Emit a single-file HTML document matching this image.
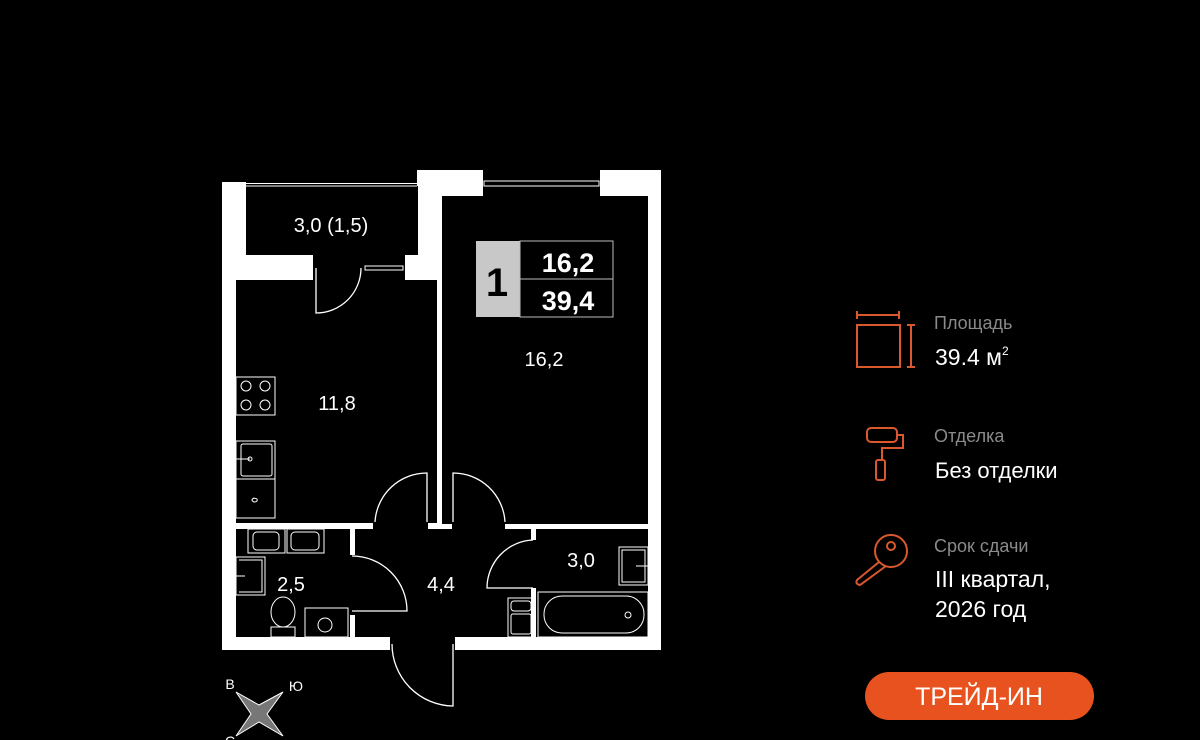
<!DOCTYPE html>
<html><head><meta charset="utf-8"><style>
html,body{margin:0;padding:0;background:#000;width:1200px;height:740px;overflow:hidden}
svg{display:block}
</style></head><body>
<svg width="1200" height="740" viewBox="0 0 1200 740" xmlns="http://www.w3.org/2000/svg" font-family="Liberation Sans, sans-serif">
<rect width="1200" height="740" fill="#000"/>
<polygon fill="#fff" points="222,182 417,182 417,170 661,170 661,650 455,650 455,637 390,637 390,650 222,650"/>
<rect x="246" y="186" width="172" height="69" fill="#000"/>
<rect x="246" y="182" width="171" height="4" fill="#000"/>
<line x1="246" y1="183.5" x2="417" y2="183.5" stroke="#fff" stroke-width="1"/>
<line x1="246" y1="186" x2="417" y2="186" stroke="#fff" stroke-width="1"/>
<rect x="313" y="255" width="52" height="25" fill="#000"/>
<rect x="365" y="255" width="40" height="25" fill="#000"/>
<rect x="365" y="266" width="38" height="4" fill="none" stroke="#fff" stroke-width="1"/>
<rect x="236" y="280" width="201" height="243" fill="#000"/>
<path d="M316,268 L316,313 A45,45 0 0 0 361,268" fill="none" stroke="#fff" stroke-width="1.3"/>
<rect x="442" y="196" width="206" height="328" fill="#000"/>
<rect x="483" y="170" width="117" height="26" fill="#000"/>
<rect x="484" y="181" width="115" height="5" fill="none" stroke="#fff" stroke-width="1"/>
<rect x="236" y="529" width="114" height="108" fill="#000"/>
<rect x="355" y="529" width="176" height="108" fill="#000"/>
<rect x="373" y="521" width="55" height="10" fill="#000"/>
<rect x="452" y="521" width="53" height="10" fill="#000"/>
<rect x="391" y="636" width="63" height="15" fill="#000"/>
<rect x="349" y="555" width="8" height="60" fill="#000"/>
<rect x="529" y="540" width="8" height="48" fill="#000"/>
<rect x="536" y="529" width="112" height="108" fill="#000"/>
<g fill="none" stroke="#fff" stroke-width="1.3">
<path d="M427,522 L427,473 A52,52 0 0 0 375,522"/>
<path d="M453,522 L453,473 A52,52 0 0 1 505,522"/>
<path d="M352,556 A55,55 0 0 1 407,611 L352,611"/>
<path d="M533,540 A48,48 0 0 0 487,588 L533,588"/>
<path d="M392,644 A62,62 0 0 0 453,706 L453,644"/>
</g>
<g fill="none" stroke="#fff" stroke-width="1">
<rect x="236" y="377" width="39" height="38"/>
<circle cx="246" cy="386" r="5"/><circle cx="265" cy="386" r="5"/>
<circle cx="246" cy="405" r="5"/><circle cx="265" cy="405" r="5"/>
<rect x="236" y="441" width="39" height="38"/>
<rect x="241" y="444" width="31" height="32" rx="2"/>
<line x1="236" y1="459" x2="250" y2="459"/><circle cx="250" cy="459" r="2"/>
<rect x="236" y="479" width="39" height="39"/>
<path d="M254,498 q-4,2 0,4 q4,0 3,-3 z"/>
<rect x="248" y="529" width="37" height="24"/><rect x="253" y="532" width="26" height="18" rx="4"/>
<rect x="287" y="529" width="37" height="24"/><rect x="291" y="532" width="28" height="18" rx="4"/>
<rect x="236" y="557" width="29" height="38"/>
<path d="M239,560 h23 v32 h-23 M236,576 h9"/>
<ellipse cx="283" cy="612" rx="12" ry="15"/>
<rect x="271" y="627" width="24" height="10"/>
<rect x="305" y="608" width="43" height="29"/>
<circle cx="325" cy="625" r="7"/>
<rect x="619" y="547" width="29" height="38"/>
<path d="M622,550 h23 v32 h-23 z M636,566 h12"/>
<rect x="538" y="592" width="110" height="45"/>
<rect x="544" y="596" width="100" height="37" rx="18"/>
<circle cx="628" cy="615" r="3"/>
<rect x="508" y="598" width="26" height="39"/>
<rect x="511" y="601" width="20" height="10" rx="3"/>
<rect x="511" y="614" width="20" height="20" rx="2"/>
</g>
<g fill="#fff" font-size="20" text-anchor="middle">
<text x="331" y="232">3,0 (1,5)</text>
<text x="337" y="410">11,8</text>
<text x="544" y="366">16,2</text>
<text x="291" y="591">2,5</text>
<text x="441" y="591">4,4</text>
<text x="581" y="567">3,0</text>
</g>
<rect x="476" y="241" width="44" height="76" fill="#c8c8c8"/>
<text x="497" y="296" font-size="40" font-weight="bold" text-anchor="middle" fill="#000">1</text>
<rect x="520" y="241" width="93" height="76" fill="#000" stroke="#bbb" stroke-width="1"/>
<line x1="520" y1="279" x2="613" y2="279" stroke="#bbb" stroke-width="1"/>
<text x="568" y="272" font-size="27" font-weight="bold" text-anchor="middle" fill="#fff">16,2</text>
<text x="568" y="310" font-size="27" font-weight="bold" text-anchor="middle" fill="#fff">39,4</text>
<polygon points="236,692 259,705 283,692 267,714 283,736 259,722 236,736 251,714" fill="#777" stroke="#fff" stroke-width="1"/>
<text x="230" y="689" font-size="14" fill="#fff" text-anchor="middle">В</text>
<text x="296" y="691" font-size="14" fill="#fff" text-anchor="middle">Ю</text>
<text x="230" y="746" font-size="14" fill="#fff" text-anchor="middle">С</text>
<g fill="none" stroke="#d9582d" stroke-width="2">
<rect x="857" y="325" width="43" height="42"/>
<path d="M857,315 h42 M857,311 v8 M899,311 v8 M911,325 v42 M907,325 h8 M907,367 h8"/>
<rect x="867" y="428" width="30" height="14" rx="4"/>
<path d="M897,435 h6 v13 h-21 v12"/>
<rect x="876" y="460" width="9" height="20" rx="2"/>
<circle cx="891" cy="551" r="16"/>
<circle cx="891" cy="546" r="4"/>
<path d="M879,562 L857,580 q-2,4 3,5 L886,566"/>
</g>
<g font-family="Liberation Sans, DejaVu Sans, sans-serif">
<text x="934" y="329" font-size="18" fill="#8a8a8a">Площадь</text>
<text x="935" y="365" font-size="23" fill="#fff">39.4 м<tspan font-size="12" dy="-10">2</tspan></text>
<text x="934" y="442" font-size="18" fill="#8a8a8a">Отделка</text>
<text x="935" y="478" font-size="22" fill="#fff">Без отделки</text>
<text x="934" y="552" font-size="18" fill="#8a8a8a">Срок сдачи</text>
<text x="935" y="587" font-size="23" fill="#fff">III квартал,</text>
<text x="935" y="617" font-size="23" fill="#fff">2026 год</text>
</g>
<rect x="865" y="672" width="229" height="48" rx="24" fill="#e8521e"/>
<text x="979" y="705" font-size="25" fill="#fff" text-anchor="middle">ТРЕЙД-ИН</text>
</svg>
</body></html>
